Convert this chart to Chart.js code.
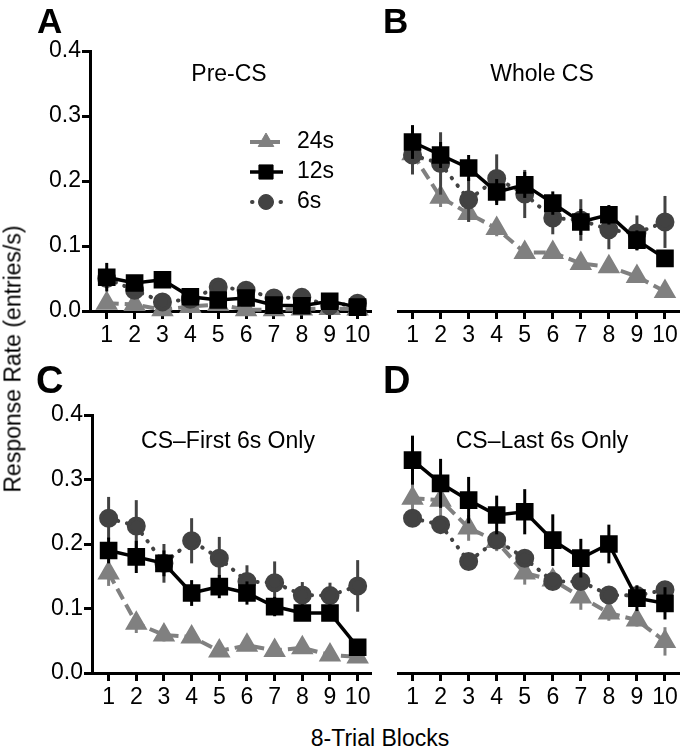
<!DOCTYPE html>
<html><head><meta charset="utf-8">
<script src="https://cdn.jsdelivr.net/npm/chart.js@4"></script>
<style>
body{margin:0;width:699px;height:750px;background:#fff;position:relative;overflow:hidden;font-family:"Liberation Sans",Arial,sans-serif;}
canvas{position:absolute;}
.t{position:absolute;white-space:nowrap;line-height:1;color:#000;font-size:23px;}
.l{position:absolute;white-space:nowrap;line-height:1;color:#000;font-weight:bold;}
.c{transform:translateX(-50%);}
</style></head><body>
<canvas id="cA" width="385" height="350" style="left:0;top:0"></canvas>
<canvas id="cB" width="314" height="350" style="left:385px;top:0"></canvas>
<canvas id="cC" width="385" height="350" style="left:0;top:360px"></canvas>
<canvas id="cD" width="314" height="350" style="left:385px;top:360px"></canvas>

<div class="l" style="left:37px;top:3px;font-size:35px">A</div>
<div class="l" style="left:383px;top:3px;font-size:35px">B</div>
<div class="l" style="left:36px;top:361px;font-size:38px">C</div>
<div class="l" style="left:383px;top:361px;font-size:38px">D</div>

<div class="t c" style="left:229px;top:62px">Pre-CS</div>
<div class="t c" style="left:542px;top:62px">Whole CS</div>
<div class="t c" style="left:228px;top:429px">CS–First 6s Only</div>
<div class="t c" style="left:542px;top:429px">CS–Last 6s Only</div>

<div class="t" style="left:13px;top:359px;transform:translate(-50%,-50%) rotate(-90deg)">Response Rate (entries/s)</div>
<div class="t c" style="left:380px;top:727px">8-Trial Blocks</div>

<script>
// ---- data ----
const blocks = [1,2,3,4,5,6,7,8,9,10];
const yTicks = [0, 0.1, 0.2, 0.3, 0.4];
const seriesNames = ['24s', '12s', '6s'];

// Panel A: Pre-CS
const preCS_24 = [0.012, 0.010, 0.002, 0.007, 0.010, 0.002, 0.002, 0.003, 0.004, 0.003];
const preCS_12 = [0.052, 0.043, 0.048, 0.022, 0.017, 0.020, 0.009, 0.008, 0.015, 0.006];
const preCS_6  = [0.050, 0.032, 0.014, 0.018, 0.037, 0.032, 0.020, 0.021, 0.008, 0.012];
const preCS_24e = [0.006, 0.005, 0.003, 0.003, 0.004, 0.002, 0.002, 0.002, 0.003, 0.002];
const preCS_12e = [0.022, 0.008, 0.010, 0.008, 0.006, 0.005, 0.004, 0.004, 0.004, 0.003];
const preCS_6e  = [0.015, 0.010, 0.008, 0.006, 0.010, 0.008, 0.005, 0.005, 0.003, 0.004];

// Panel B: Whole CS
const whole_24 = [0.242, 0.175, 0.150, 0.127, 0.090, 0.090, 0.073, 0.068, 0.053, 0.030];
const whole_12 = [0.260, 0.240, 0.220, 0.183, 0.194, 0.166, 0.137, 0.148, 0.109, 0.081];
const whole_6  = [0.240, 0.227, 0.171, 0.204, 0.180, 0.143, 0.140, 0.125, 0.120, 0.137];
const whole_24e = [0.020, 0.015, 0.012, 0.012, 0.008, 0.008, 0.008, 0.007, 0.007, 0.006];
const whole_12e = [0.026, 0.020, 0.020, 0.020, 0.020, 0.018, 0.020, 0.015, 0.015, 0.012];
const whole_6e  = [0.030, 0.048, 0.034, 0.037, 0.037, 0.025, 0.032, 0.030, 0.027, 0.040];

// Panel C: CS-First 6s Only
const first_24 = [0.155, 0.077, 0.059, 0.056, 0.034, 0.043, 0.035, 0.039, 0.028, 0.025];
const first_12 = [0.190, 0.180, 0.170, 0.124, 0.134, 0.124, 0.103, 0.093, 0.093, 0.040];
const first_6  = [0.240, 0.228, 0.170, 0.205, 0.178, 0.142, 0.140, 0.121, 0.120, 0.135];
const first_24e = [0.020, 0.015, 0.010, 0.008, 0.006, 0.006, 0.006, 0.006, 0.005, 0.005];
const first_12e = [0.020, 0.025, 0.020, 0.020, 0.018, 0.018, 0.015, 0.012, 0.012, 0.008];
const first_6e  = [0.033, 0.040, 0.030, 0.035, 0.033, 0.025, 0.033, 0.020, 0.020, 0.040];

// Panel D: CS-Last 6s Only
const last_24 = [0.271, 0.268, 0.225, 0.204, 0.155, 0.144, 0.118, 0.093, 0.082, 0.049];
const last_12 = [0.330, 0.294, 0.268, 0.245, 0.250, 0.206, 0.178, 0.200, 0.116, 0.108];
const last_6  = [0.240, 0.230, 0.173, 0.206, 0.178, 0.142, 0.142, 0.121, 0.120, 0.129];
const last_24e = [0.030, 0.030, 0.020, 0.015, 0.018, 0.015, 0.020, 0.012, 0.010, 0.022];
const last_12e = [0.038, 0.038, 0.036, 0.030, 0.035, 0.040, 0.030, 0.030, 0.020, 0.025];
const last_6e  = [0.010, 0.010, 0.008, 0.010, 0.010, 0.010, 0.010, 0.010, 0.010, 0.010];

// ---- styles ----
const FONT = '"Liberation Sans", Arial, sans-serif';
const STY = {
  '24s': {borderColor:'#808080', backgroundColor:'#808080', pointBorderColor:'#808080', borderWidth:4, borderDash:[12,6], pointStyle:'triangle', pointRadius:9},
  '12s': {borderColor:'#000000', backgroundColor:'#000000', pointBorderColor:'#000000', borderWidth:3.5, borderDash:[], pointStyle:'rect', pointRadius:10},
  '6s':  {borderColor:'#424242', backgroundColor:'#424242', pointBorderColor:'#424242', borderWidth:4, borderDash:[0.5,9], borderCapStyle:'round', pointStyle:'circle', pointRadius:7.5}
};

function mkDs(name, vals, errs){
  return Object.assign({
    label:name,
    data: blocks.map((b,i)=>({x:b, y:vals[i]})),
    errors: errs,
    tension:0, clip:false, pointHoverRadius:0
  }, STY[name]);
}

const errorBars = {
  id:'errorBars',
  beforeDatasetDraw(chart, args){
    const ds = chart.data.datasets[args.index];
    if(!ds.errors) return;
    const ys = chart.scales.y, ctx = chart.ctx;
    ctx.save();
    ctx.strokeStyle = ds.borderColor; ctx.lineWidth = 3; ctx.setLineDash([]); ctx.lineCap='butt';
    args.meta.data.forEach((pt,i)=>{
      const v = ds.data[i].y, e = ds.errors[i];
      ctx.beginPath();
      ctx.moveTo(pt.x, ys.getPixelForValue(v+e));
      ctx.lineTo(pt.x, ys.getPixelForValue(Math.max(v-e,0)));
      ctx.stroke();
    });
    ctx.restore();
  }
};

function marker(ctx, st, x, y){
  const r = st.pointRadius;
  ctx.save(); ctx.setLineDash([]);
  ctx.fillStyle = st.backgroundColor; ctx.strokeStyle = st.borderColor; ctx.lineWidth = 1;
  ctx.beginPath();
  if(st.pointStyle==='rect'){ const s=r*Math.SQRT1_2; ctx.rect(x-s,y-s,2*s,2*s); }
  else if(st.pointStyle==='triangle'){
    let a=0; ctx.moveTo(x+Math.sin(a)*r, y-Math.cos(a)*r);
    a+=2*Math.PI/3; ctx.lineTo(x+Math.sin(a)*r, y-Math.cos(a)*r);
    a+=2*Math.PI/3; ctx.lineTo(x+Math.sin(a)*r, y-Math.cos(a)*r); ctx.closePath();
  } else { ctx.arc(x,y,r,0,Math.PI*2); }
  ctx.fill(); ctx.stroke(); ctx.restore();
}

const insideLegend = {
  id:'insideLegend',
  afterDraw(chart){
    const ctx = chart.ctx;
    const rows = [142, 172, 202];
    seriesNames.forEach((n,i)=>{
      const st = STY[n], y = rows[i];
      ctx.save();
      ctx.strokeStyle = st.borderColor; ctx.lineWidth = st.borderWidth;
      ctx.setLineDash(st.borderDash||[]); ctx.lineCap = st.borderCapStyle||'butt';
      ctx.beginPath(); ctx.moveTo(n==='6s'?252:250, y); ctx.lineTo(283, y); ctx.stroke();
      ctx.restore();
      marker(ctx, st, 266, y);
      ctx.save();
      ctx.fillStyle='#000'; ctx.font = '23px '+FONT; ctx.textBaseline='middle'; ctx.textAlign='left';
      ctx.fillText(n, 297, y);
      ctx.restore();
    });
  }
};

function panel(id, sets, cfg){
  const tickFont = {family:FONT, size:23};
  return new Chart(document.getElementById(id), {
    type:'line',
    data:{ datasets: sets },
    plugins: cfg.legend ? [errorBars, insideLegend] : [errorBars],
    options:{
      responsive:false, animation:false, events:[],
      layout:{padding:cfg.pad},
      plugins:{legend:{display:false}, tooltip:{enabled:false}, title:{display:false}},
      scales:{
        x:{type:'linear', min:cfg.xmin, max:10.5,
          afterBuildTicks: ax=>{ ax.ticks = blocks.map(v=>({value:v})); },
          afterFit: ax=>{ ax.height = 32; },
          grid:{display:true, drawOnChartArea:false, drawTicks:true, tickLength:8, tickWidth:3, tickColor:'#000', color:'#000'},
          border:{display:true, color:'#000', width:3},
          ticks:{color:'#000', font:tickFont, padding:3, maxRotation:0, autoSkip:false, callback:v=>String(v)}
        },
        y:{type:'linear', min:0, max:0.4, display:cfg.showY,
          afterBuildTicks: ax=>{ ax.ticks = yTicks.map(v=>({value:v})); },
          afterFit: ax=>{ ax.width = cfg.yW; },
          grid:{display:true, drawOnChartArea:false, drawTicks:true, tickLength:8, tickWidth:3, tickColor:'#000', color:'#000'},
          border:{display:true, color:'#000', width:3},
          ticks:{color:'#000', font:tickFont, padding:1, callback:v=>Number(v).toFixed(1)}
        }
      }
    }
  });
}

panel('cA', [mkDs('12s',preCS_12,preCS_12e), mkDs('6s',preCS_6,preCS_6e), mkDs('24s',preCS_24,preCS_24e)],
  {pad:{top:51,left:0,right:7,bottom:7}, xmin:0.4, showY:true, yW:90, legend:true});
panel('cB', [mkDs('12s',whole_12,whole_12e), mkDs('6s',whole_6,whole_6e), mkDs('24s',whole_24,whole_24e)],
  {pad:{top:51,left:8,right:20,bottom:7}, xmin:0.5, showY:false, yW:0});
panel('cC', [mkDs('12s',first_12,first_12e), mkDs('6s',first_6,first_6e), mkDs('24s',first_24,first_24e)],
  {pad:{top:55,left:0,right:7,bottom:5}, xmin:0.4, showY:true, yW:92});
panel('cD', [mkDs('12s',last_12,last_12e), mkDs('6s',last_6,last_6e), mkDs('24s',last_24,last_24e)],
  {pad:{top:55,left:8,right:20,bottom:5}, xmin:0.5, showY:false, yW:0});
</script>
</body></html>
